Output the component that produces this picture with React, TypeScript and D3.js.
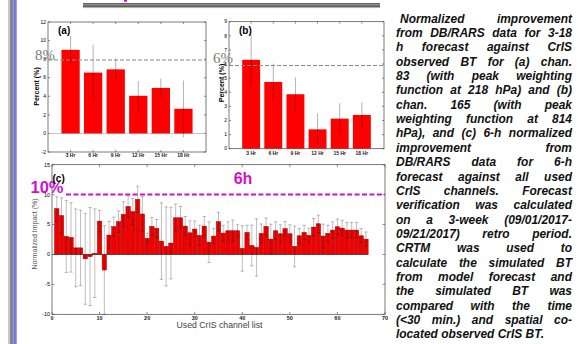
import * as d3 from 'd3';

// (a) chan. 83 and (b) chan. 165, forecast hours
const hourLabels = ['3 Hr', '6 Hr', '9 Hr', '12 Hr', '15 Hr', '18 Hr'];
const chan83 = [9.0, 6.55, 6.9, 4.05, 4.9, 2.65];
const chan83Err = [1.5, 3.0, 1.2, 1.6, 1.0, 3.05];
const chan165 = [6.3, 4.73, 3.86, 1.37, 2.13, 2.39];
const chan165Err = [1.8, 1.3, 1.2, 1.15, 1.1, 0.9];

// (c) 6-h normalized impact per used CrIS channel
const impact = [
  7.65, 6.48, 3.0, 2.85, 1.1, 1.1, -0.73, -0.35, 0.2, 5.57, -2.6, 3.24, 4.64, 5.47, 6.7, 8.0, 7.15, 9.2, 6.76, 2.68,
  4.68, 4.36, 2.23, 1.34, 1.9, 6.13, 6.13, 4.74, 3.62, 4.24, 3.18, 4.74, 2.06, 3.07, 5.47, 3.57, 3.96, 3.96, 3.96, 1.0,
  3.68, 1.5, 1.17, 3.5, 4.68, 2.56, 3.96, 3.46, 4.3, 3.46, 1.34, 3.12, 3.68, 3.18, 4.57, 5.13, 3.07, 3.5, 4.07, 4.63,
  4.4, 4.07, 4.07, 4.07, 3.12, 2.56,
];
const impactErr = [
  2.0, 3.0, 6.0, 5.8, 6.5, 6.3, 7.6, 8.2, 7.4, 1.8, 7.4, 2.3, 1.6, 1.8, 2.1, 1.8, 2.2, 2.2, 2.9, 0.9,
  1.5, 1.5, 6.4, 6.6, 6.0, 2.3, 1.9, 1.6, 2.0, 1.35, 1.7, 1.6, 3.4, 1.3, 1.6, 1.3, 1.5, 1.8, 1.0, 3.8,
  1.2, 3.4, 4.8, 1.6, 1.4, 2.5, 1.5, 1.5, 1.2, 1.5, 3.4, 1.2, 1.2, 1.2, 1.45, 1.45, 2.0, 1.4, 1.4, 1.3,
  1.3, 1.3, 1.3, 1.3, 1.2, 1.2,
];
const impactXTicks = [0, 10, 20, 30, 40, 50, 60, 70];
const impactYTicks = [-10, -5, 0, 5, 10, 15];

const caption = [
  'Normalized improvement',
  'from DB/RARS data for 3-18',
  'h forecast against CrIS',
  'observed BT for (a) chan.',
  '83 (with peak weighting',
  'function at 218 hPa) and (b)',
  'chan. 165 (with peak',
  'weighting function at 814',
  'hPa), and (c) 6-h normalized',
  'improvement from',
  'DB/RARS data for 6-h',
  'forecast against all used',
  'CrIS channels. Forecast',
  'verification was calculated',
  'on a 3-week (09/01/2017-',
  '09/21/2017) retro period.',
  'CRTM was used to',
  'calculate the simulated BT',
  'from model forecast and',
  'the simulated BT was',
  'compared with the time',
  '(<30 min.) and spatial co-',
  'located observed CrIS BT.',
];

const SANS = "'Liberation Sans', Arial, sans-serif";
const MAGENTA = '#cc11cc';

const ctx = document.createElement('canvas').getContext('2d');
function measure(s, font) {
  ctx.font = font;
  return ctx.measureText(s).width;
}

function HourPanel({ x0, x1, yTop, yBot, yDomain, yTicks, values, errs, tag, refValue, refText, refLabel, labelX, labelY, tickLabelY }) {
  const x = d3.scaleLinear().domain([0, 7]).range([x0, x1]);
  const y = d3.scaleLinear().domain(yDomain).range([yBot, yTop]);
  const bw = (x(1) - x(0)) * 0.81;
  return (
    <g>
      <rect x={x0} y={yTop} width={x1 - x0} height={yBot - yTop} fill="none" stroke="#444" strokeWidth={0.7} />
      {yTicks.map(t => (
        <g key={t}>
          <line x1={x0} x2={x0 + 2} y1={y(t)} y2={y(t)} stroke="#444" strokeWidth={0.6} />
          <line x1={x1 - 2} x2={x1} y1={y(t)} y2={y(t)} stroke="#444" strokeWidth={0.6} />
          <text x={x0 - 2} y={y(t)} dy="0.35em" textAnchor="end" fontSize={5} fontFamily={SANS}>{t}</text>
        </g>
      ))}
      {hourLabels.map((h, i) => (
        <g key={h}>
          <line x1={x(i + 1)} x2={x(i + 1)} y1={yTop} y2={yTop + 2} stroke="#444" strokeWidth={0.6} />
          <line x1={x(i + 1)} x2={x(i + 1)} y1={yBot - 2} y2={yBot} stroke="#444" strokeWidth={0.6} />
          <text x={x(i + 1)} y={tickLabelY} textAnchor="middle" fontSize={5} fontWeight="bold" fontFamily={SANS} fill="#222">{h}</text>
        </g>
      ))}
      {yDomain[0] < 0 && <line x1={x0} x2={x1} y1={y(0)} y2={y(0)} stroke="#999" strokeWidth={0.6} />}
      {values.map((v, i) => (
        <rect key={i} x={x(i + 1) - bw / 2} y={y(v)} width={bw} height={y(0) - y(v)} fill="#ff0000" />
      ))}
      {values.map((v, i) => (
        <line key={i} x1={x(i + 1)} x2={x(i + 1)} y1={y(v + errs[i])} y2={y(v - errs[i])} stroke="#000" strokeOpacity={0.3} strokeWidth={1} />
      ))}
      <line x1={x0} x2={x1} y1={y(refValue)} y2={y(refValue)} stroke="#8a8a8a" strokeWidth={1.1} strokeDasharray="4 2" />
      <text x={refLabel[0]} y={refLabel[1]} fontSize={15} fontFamily="'Liberation Serif', 'Times New Roman', serif" fill="#7a7a7a">{refText}</text>
      <text x={x0 + 10} y={33.5} fontSize={10} fontWeight="bold" fontFamily={SANS}>{tag}</text>
      <text transform={`translate(${labelX},${labelY}) rotate(-90)`} textAnchor="middle" fontSize={7} fontWeight="bold" fontFamily={SANS}>Percent (%)</text>
    </g>
  );
}

function ImpactPanel() {
  const x0 = 52, x1 = 385, yTop = 164.7, yBot = 314.3;
  const x = d3.scaleLinear().domain([0, 70]).range([x0, x1]);
  const y = d3.scaleLinear().domain([-10, 15]).range([yBot, yTop]);
  const bw = (x(1) - x(0)) * 0.92;
  const cap = 1.7;
  return (
    <g>
      <rect x={x0} y={yTop} width={x1 - x0} height={yBot - yTop} fill="none" stroke="#444" strokeWidth={0.7} />
      {impactYTicks.map(t => (
        <g key={t}>
          <line x1={x0} x2={x0 + 2.5} y1={y(t)} y2={y(t)} stroke="#444" strokeWidth={0.6} />
          <line x1={x1 - 2.5} x2={x1} y1={y(t)} y2={y(t)} stroke="#444" strokeWidth={0.6} />
          <text x={x0 - 2} y={y(t)} dy="0.35em" textAnchor="end" fontSize={5.5} fontFamily={SANS}>{t}</text>
        </g>
      ))}
      {impactXTicks.map(t => (
        <g key={t}>
          <line x1={x(t)} x2={x(t)} y1={yTop} y2={yTop + 2.5} stroke="#444" strokeWidth={0.6} />
          <line x1={x(t)} x2={x(t)} y1={yBot - 2.5} y2={yBot} stroke="#444" strokeWidth={0.6} />
          <text x={x(t)} y={yBot + 6} textAnchor="middle" fontSize={5.5} fontWeight="bold" fontFamily={SANS} fill="#222">{t}</text>
        </g>
      ))}
      {impact.map((v, i) => (
        <rect key={i} x={x(i + 1) - bw / 2} y={Math.min(y(v), y(0))} width={bw} height={Math.abs(y(0) - y(v))}
          fill="#f20000" stroke="#a00000" strokeWidth={0.5} />
      ))}
      <line x1={x(0)} x2={x(impact.length + 0.5)} y1={y(0)} y2={y(0)} stroke="#333" strokeWidth={0.6} />
      {impact.map((v, i) => {
        const cx = x(i + 1), hi = y(v + impactErr[i]), lo = y(v - impactErr[i]);
        return (
          <g key={i} stroke="#000" strokeOpacity={0.33} strokeWidth={0.8}>
            <line x1={cx} x2={cx} y1={hi} y2={lo} />
            <line x1={cx - cap} x2={cx + cap} y1={hi} y2={hi} />
            <line x1={cx - cap} x2={cx + cap} y1={lo} y2={lo} />
          </g>
        );
      })}
      <line x1={66} x2={x1} y1={y(10)} y2={y(10)} stroke={MAGENTA} strokeWidth={2} strokeDasharray="5 2.4" />
      <text x={30.5} y={193.3} fontSize={16.5} fontWeight="bold" fontFamily={SANS} fill={MAGENTA}>10%</text>
      <text x={243} y={184} textAnchor="middle" fontSize={16} fontWeight="bold" fontFamily={SANS} fill={MAGENTA}>6h</text>
      <text x={52.5} y={181.5} fontSize={10} fontWeight="bold" fontFamily={SANS}>(c)</text>
      <text transform="translate(37,234) rotate(-90)" textAnchor="middle" fontSize={7} fontFamily={SANS} fill="#555">Normalized Impact (%)</text>
      <text x={219.5} y={328} textAnchor="middle" fontSize={8.7} fontFamily={SANS} fill="#444">Used CrIS channel list</text>
    </g>
  );
}

function Caption() {
  const font = `italic bold 13px ${SANS}`;
  const sx = 0.92;
  const left = 396, right = 572;
  const avail = (right - left) / sx;
  return (
    <g transform={`translate(${left},0) scale(${sx},1)`} fontFamily={SANS} fontStyle="italic" fontWeight="bold" fontSize={13} fill="#111">
      {caption.map((line, i) => {
        const yy = 22.7 + i * 14.35;
        const indent = i === 0 ? 4 / sx : 0;
        const words = line.split(' ');
        const widths = words.map(w => measure(w, font));
        const spaceW = measure(' ', font);
        const last = i === caption.length - 1;
        const natural = d3.sum(widths);
        const gap = last || words.length < 2 ? spaceW : Math.max(spaceW * 0.6, (avail - indent - natural) / (words.length - 1));
        let cx = indent;
        return (
          <text key={i} y={yy}>
            {words.map((w, j) => {
              const px = cx;
              cx += widths[j] + gap;
              return <tspan key={j} x={px}>{w}</tspan>;
            })}
          </text>
        );
      })}
    </g>
  );
}

export default function App() {
  return (
    <svg width={581} height={344} style={{ position: 'absolute', left: 0, top: 0, background: '#fff' }}>
      <rect width={581} height={344} fill="#fff" />
      <rect x={8} y={0} width={2} height={344} fill="#c8c8c8" />
      <rect x={10} y={0} width={3.3} height={344} fill="#858585" />
      <rect x={13.3} y={0} width={3.4} height={344} fill="#7676de" />
      <rect x={83} y={3.3} width={297} height={1.2} fill="#222" />
      <rect x={83} y={4.5} width={297} height={1} fill="#8a8a8a" />
      <rect x={83} y={5.5} width={297} height={1.3} fill="#222" />
      <rect x={83} y={6.8} width={297} height={1.3} fill="#b0b0b0" />
      <rect x={124} y={0} width={3} height={1.8} fill={MAGENTA} />
      <HourPanel x0={48} x1={206} yTop={22} yBot={152} yDomain={[-2, 12]} yTicks={d3.range(-2, 13, 2)}
        values={chan83} errs={chan83Err} tag="(a)" refValue={7.9} refText="8%" refLabel={[35, 60]} labelX={38.5} labelY={86.5} tickLabelY={157} />
      <HourPanel x0={229} x1={384} yTop={21.7} yBot={148.7} yDomain={[0, 9]} yTicks={d3.range(0, 10, 1)}
        values={chan165} errs={chan165Err} tag="(b)" refValue={5.9} refText="6%" refLabel={[213, 63.3]} labelX={223.5} labelY={83} tickLabelY={154.5} />
      <ImpactPanel />
      <Caption />
    </svg>
  );
}
